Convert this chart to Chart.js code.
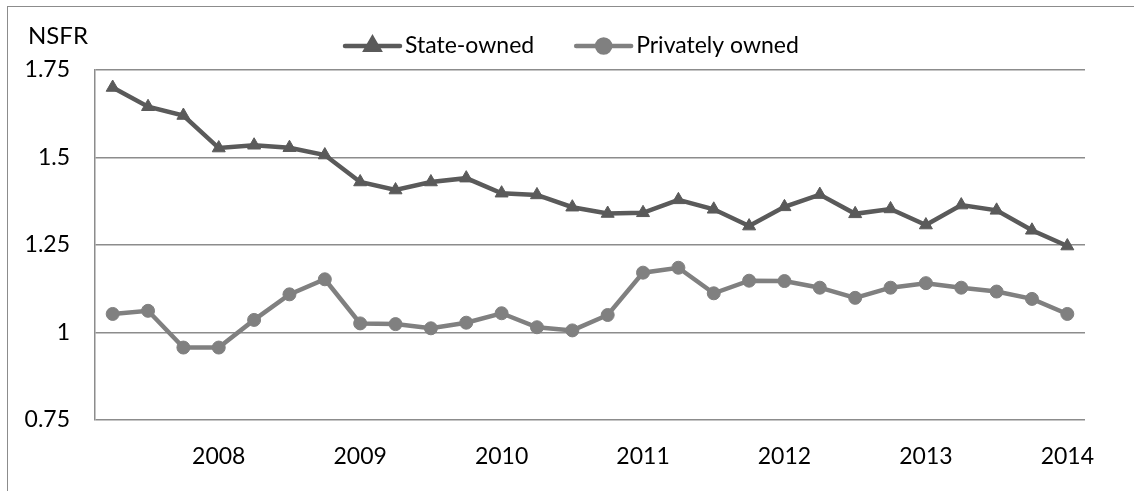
<!DOCTYPE html>
<html>
<head>
<meta charset="utf-8">
<script src="https://cdn.jsdelivr.net/npm/chart.js@4"></script>
<style>
  html, body { margin: 0; padding: 0; background: #fff; overflow: hidden; }
  #wrap { position: relative; width: 1134px; height: 491px; }
  #frame { position: absolute; left: 7px; top: 6px; width: 1200px; height: 600px; border: 1.5px solid #8c8c8c; }
  canvas { position: absolute; left: 0; top: 0; }
</style>
</head>
<body>
<div id="wrap">
  <div id="frame"></div>
  <canvas id="nsfrChart" width="1134" height="491"></canvas>
</div>
<script>
// 28 quarterly observations, only year ticks are labelled
const categories = ['', '', '', '2008', '', '', '', '2009', '', '', '', '2010', '', '', '',
    '2011', '', '', '', '2012', '', '', '', '2013', '', '', '', '2014'];

const stateOwned = [1.70, 1.645, 1.62, 1.527, 1.535, 1.528, 1.507, 1.43, 1.407, 1.43,
    1.441, 1.398, 1.393, 1.358, 1.34, 1.342, 1.379, 1.352, 1.304, 1.359,
    1.394, 1.339, 1.353, 1.307, 1.364, 1.349, 1.292, 1.247];

const privatelyOwned = [1.053, 1.062, 0.957, 0.957, 1.036, 1.109, 1.152, 1.026, 1.024, 1.012,
    1.028, 1.055, 1.015, 1.006, 1.05, 1.171, 1.185, 1.112, 1.148, 1.147,
    1.128, 1.099, 1.128, 1.141, 1.128, 1.117, 1.096, 1.053];

const yTicks = [0.75, 1, 1.25, 1.5, 1.75];

const FONT = 'Lato, "Open Sans", sans-serif';

// legend drawn as line + marker like the original
const legendPlugin = {
    id: 'lineLegend',
    afterDraw(chart) {
        const ctx = chart.ctx;
        ctx.save();
        ctx.fillStyle = '#000';
        ctx.textBaseline = 'middle';
        ctx.font = '24px ' + FONT;
        ctx.fillText('NSFR', 28, 36);

        ctx.font = '23px ' + FONT;
        let x = 345;
        const y = 46;
        chart.data.datasets.forEach(ds => {
            ctx.strokeStyle = ds.borderColor;
            ctx.lineWidth = ds.borderWidth;
            ctx.lineCap = 'round';
            ctx.beginPath();
            ctx.moveTo(x, y);
            ctx.lineTo(x + 55, y);
            ctx.stroke();
            Chart.helpers.drawPoint(ctx, {
                pointStyle: ds.pointStyle,
                radius: ds.pointRadius,
                borderWidth: 1
            }, x + 27.5, y);
            ctx.fillStyle = ds.pointBackgroundColor;
            ctx.fill();
            ctx.fillStyle = '#000';
            ctx.textAlign = 'left';
            ctx.fillText(ds.label, x + 60, y);
            x += 60 + ctx.measureText(ds.label).width + 42;
        });
        ctx.restore();
    }
};

const ctx = document.getElementById('nsfrChart').getContext('2d');
new Chart(ctx, {
    type: 'line',
    data: {
        labels: categories,
        datasets: [{
            label: 'State-owned',
            data: stateOwned,
            borderColor: '#5a5a5a',
            backgroundColor: '#5a5a5a',
            pointBackgroundColor: '#5a5a5a',
            pointBorderColor: '#5a5a5a',
            borderWidth: 4.5,
            pointStyle: 'triangle',
            pointRadius: 7.5,
            pointBorderWidth: 1,
            tension: 0
        }, {
            label: 'Privately owned',
            data: privatelyOwned,
            borderColor: '#808080',
            backgroundColor: '#808080',
            pointBackgroundColor: '#808080',
            pointBorderColor: '#808080',
            borderWidth: 4.5,
            pointStyle: 'circle',
            pointRadius: 6.5,
            pointBorderWidth: 1,
            tension: 0
        }]
    },
    options: {
        responsive: false,
        animation: false,
        layout: {
            padding: { top: 70, right: 49, left: 0, bottom: 0 }
        },
        scales: {
            x: {
                offset: true,
                grid: { display: false, drawTicks: false },
                border: { display: false },
                ticks: {
                    autoSkip: false,
                    maxRotation: 0,
                    padding: 23,
                    color: '#000',
                    font: { family: FONT, size: 23 }
                },
                afterFit(scale) { scale.height = 71; }
            },
            y: {
                min: 0.75,
                max: 1.75,
                afterBuildTicks(scale) {
                    scale.ticks = yTicks.map(v => ({ value: v }));
                },
                grid: { color: '#8c8c8c', lineWidth: 1.5, drawTicks: false },
                border: { display: true, color: '#8c8c8c', width: 1.5 },
                ticks: {
                    padding: 25,
                    color: '#000',
                    font: { family: FONT, size: 23 },
                    callback: value => String(value)
                },
                afterFit(scale) { scale.width = 95; }
            }
        },
        plugins: {
            legend: { display: false },
            tooltip: { enabled: false }
        }
    },
    plugins: [legendPlugin]
});
</script>
</body>
</html>
